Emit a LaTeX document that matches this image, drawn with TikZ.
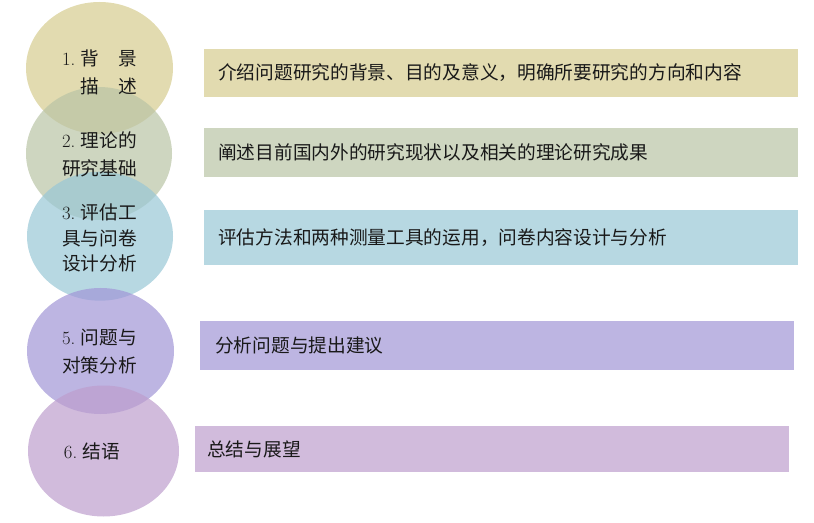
\documentclass[tikz,border=0pt]{standalone}
\usepackage{fontspec}
\newfontfamily\cjk{Noto Sans CJK SC}
\newcommand{\numlbl}[1]{\makebox[1em][l]{\rmfamily #1}}
\definecolor{r1}{RGB}{226,219,176}
\definecolor{r2}{RGB}{206,214,192}
\definecolor{r3}{RGB}{183,216,226}
\definecolor{r4}{RGB}{189,181,226}
\definecolor{r5}{RGB}{209,187,220}
\definecolor{c1}{RGB}{214,204,142}
\definecolor{c2}{RGB}{185,196,165}
\definecolor{c3}{RGB}{152,199,214}
\definecolor{c4}{RGB}{161,149,214}
\definecolor{c5}{RGB}{189,158,205}
\begin{document}
\begin{tikzpicture}[x=1bp,y=-1bp,
  every node/.style={font=\cjk\fontsize{18.7bp}{28bp}\selectfont, inner sep=0pt, text=black!90},
  bar/.style={anchor=west, text width=566bp, inner xsep=14bp, align=left},
  circ/.style={fill=#1, fill opacity=0.7},
  lbl/.style={align=left}]
\useasboundingbox (0,0) rectangle (814,523);
% ellipses
\fill[circ=c1] (99.5,68) ellipse [x radius=73.5, y radius=66];
\fill[circ=c2] (99,153.5) ellipse [x radius=73, y radius=66.5];
\fill[circ=c3] (100,236.2) ellipse [x radius=73, y radius=64.5];
\fill[circ=c4] (100.5,351) ellipse [x radius=73.5, y radius=63];
\fill[circ=c5] (103.5,451) ellipse [x radius=75.5, y radius=65.5];
% ellipse labels
\node[lbl] (t1) at (99.5,72) {\numlbl{1.}背\hspace{1em}景\\\hspace*{1em}描\hspace{1em}述};
\node[lbl] (t2) at (99.5,154) {\numlbl{2.}理论的\\研究基础};
\node[lbl, font=\cjk\fontsize{18.7bp}{25.5bp}\selectfont] (t3) at (99.5,238) {\numlbl{3.}评估工\\具与问卷\\设计分析};
\node[lbl] (t4) at (99.5,351.5) {\numlbl{5.}问题与\\对策分析};
\node[lbl] (t5) at (92,451) {\numlbl{6.}结语};
% bars
\node[bar, fill=r1, minimum height=48bp] (b1) at (204,73) {介绍问题研究的背景、目的及意义，明确所要研究的方向和内容};
\node[bar, fill=r2, minimum height=49bp] (b2) at (204,152.5) {阐述目前国内外的研究现状以及相关的理论研究成果};
\node[bar, fill=r3, minimum height=55bp] (b3) at (204,237.5) {评估方法和两种测量工具的运用，问卷内容设计与分析};
\node[bar, fill=r4, minimum height=49bp, inner xsep=15bp, text width=564bp] (b4) at (200,345.5) {分析问题与提出建议};
\node[bar, fill=r5, minimum height=46bp, inner xsep=12bp, text width=570bp] (b5) at (195,449) {总结与展望};
\end{tikzpicture}
\end{document}
